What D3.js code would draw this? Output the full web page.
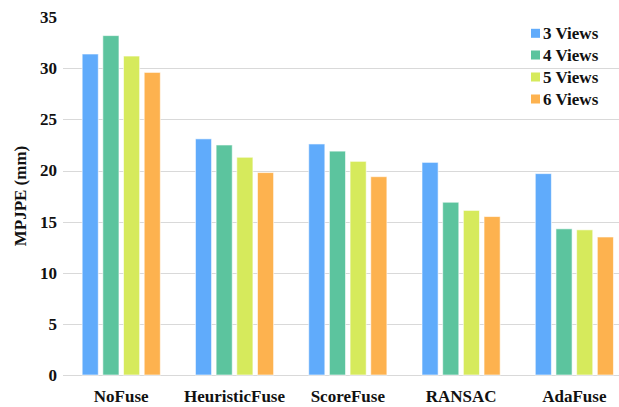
<!DOCTYPE html>
<html>
<head>
<meta charset="utf-8">
<script src="https://cdn.jsdelivr.net/npm/d3@7"></script>
<style>
  html, body { margin: 0; padding: 0; background: #fff; }
  svg { display: block; }
</style>
</head>
<body>
<svg id="chart" width="619" height="407"></svg>
<script>
// Methods compared and number of views
const methods = ["NoFuse", "HeuristicFuse", "ScoreFuse", "RANSAC", "AdaFuse"];
const views = ["3 Views", "4 Views", "5 Views", "6 Views"];
const colors = ["#60abfb", "#5cc49e", "#d6ea5c", "#fdb24f"];

// MPJPE (mm) per method, one array per view count
const views3 = [31.4, 23.1, 22.6, 20.8, 19.7];
const views4 = [33.2, 22.5, 21.9, 16.9, 14.3];
const views5 = [31.2, 21.3, 20.9, 16.1, 14.2];
const views6 = [29.6, 19.8, 19.4, 15.5, 13.5];
const yTicks = [0, 5, 10, 15, 20, 25, 30, 35];

const series = [views3, views4, views5, views6];
const FONT = "Liberation Serif";

const svg = d3.select("#chart");
const margin = { left: 64.6, right: -12, top: 17.2, bottom: 32 };
const W = 619, H = 407;

const x0 = d3.scaleBand()
  .domain(methods)
  .range([margin.left, W - margin.right])
  .paddingInner(0.31)
  .paddingOuter(0.155);

const x1 = d3.scaleBand()
  .domain(views)
  .range([0, x0.bandwidth()])
  .paddingInner(0.22);

const y = d3.scaleLinear()
  .domain([0, 35])
  .range([375, margin.top]);

function label(sel, size) {
  return sel
    .attr("font-family", FONT)
    .attr("font-weight", "bold")
    .attr("font-size", size)
    .attr("fill", "#111");
}

// Horizontal grid lines
svg.append("g")
  .selectAll("line")
  .data(yTicks.filter(t => t < 35))
  .join("line")
  .attr("x1", 63)
  .attr("x2", W)
  .attr("y1", d => Math.round(y(d)) + 0.5)
  .attr("y2", d => Math.round(y(d)) + 0.5)
  .attr("stroke", "#d9d9d9")
  .attr("stroke-width", 1);

// Y axis tick labels
svg.append("g")
  .selectAll("text")
  .data(yTicks)
  .join("text")
  .attr("x", 57)
  .attr("y", d => y(d))
  .attr("dy", "0.35em")
  .attr("text-anchor", "end")
  .call(label, 17)
  .text(d => d);

// Y axis title
svg.append("text")
  .attr("transform", "translate(26," + 196 + ") rotate(-90)")
  .attr("text-anchor", "middle")
  .call(label, 17)
  .text("MPJPE (mm)");

// Bars
const groups = svg.append("g")
  .selectAll("g")
  .data(methods)
  .join("g")
  .attr("transform", d => "translate(" + x0(d) + ",0)");

groups.selectAll("rect")
  .data((m, i) => views.map((v, j) => ({ view: v, value: series[j][i], color: colors[j] })))
  .join("rect")
  .attr("x", d => x1(d.view))
  .attr("width", x1.bandwidth())
  .attr("y", d => y(d.value))
  .attr("height", d => y(0) - y(d.value))
  .attr("fill", d => d.color)
  .attr("stroke", "rgba(255,255,255,0.6)")
  .attr("stroke-width", 1);

// Category labels
svg.append("g")
  .selectAll("text")
  .data(methods)
  .join("text")
  .attr("x", d => x0(d) + x0.bandwidth() / 2)
  .attr("y", 401.5)
  .attr("text-anchor", "middle")
  .call(label, 17)
  .text(d => d);

// Legend
const legend = svg.append("g")
  .attr("transform", "translate(531,0)");
const rowY = [33.3, 55, 77, 99];
const item = legend.selectAll("g")
  .data(views)
  .join("g")
  .attr("transform", (d, i) => "translate(0," + rowY[i] + ")");
item.append("rect")
  .attr("x", 0)
  .attr("y", -4.5)
  .attr("width", 9)
  .attr("height", 9)
  .attr("fill", (d, i) => colors[i]);
item.append("text")
  .attr("x", 12)
  .attr("y", 0)
  .attr("dy", "0.35em")
  .call(label, 17)
  .text(d => d);
</script>
</body>
</html>
